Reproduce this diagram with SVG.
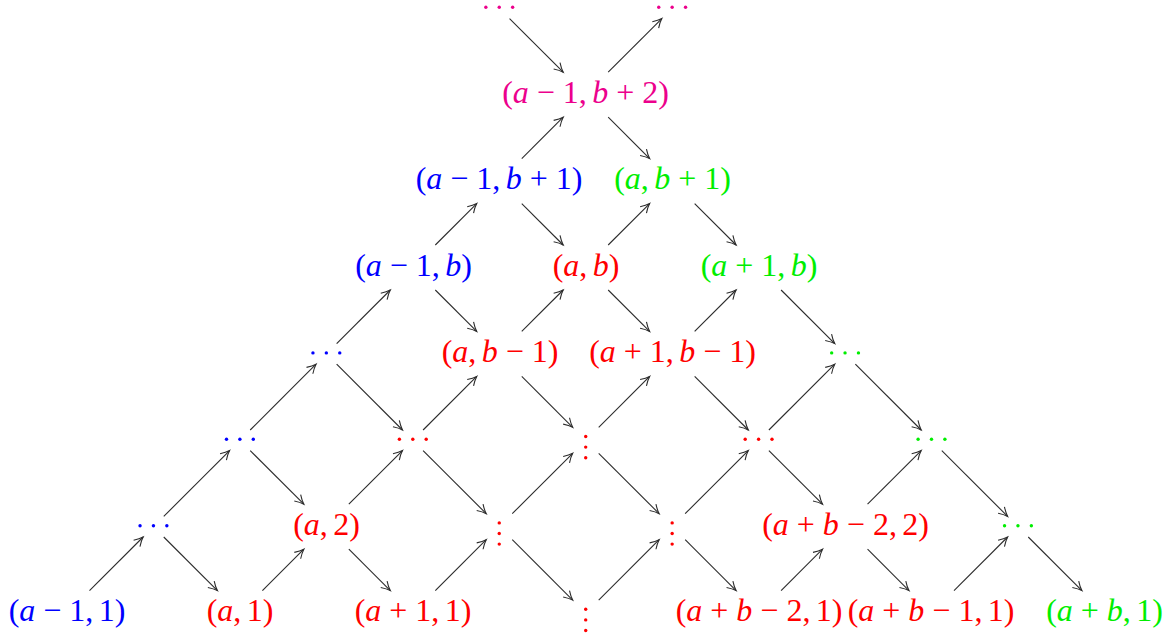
<svg xmlns="http://www.w3.org/2000/svg" width="1176" height="637" viewBox="0 0 1176 637">
<style>
text{font-family:"Liberation Serif","Times New Roman",serif;font-size:32px;text-anchor:middle}
.i{font-style:italic}
.bl{fill:#0000ff}.rd{fill:#ff0000}.gr{fill:#00ee00}.mg{fill:#ec008c}
#edges line{stroke:#2b2b2b;stroke-width:1.1;fill:none;marker-end:url(#ah)}
</style>
<defs>
<marker id="ah" markerUnits="userSpaceOnUse" viewBox="-10 -6 12 12" markerWidth="12" markerHeight="12" refX="0" refY="0" orient="auto" overflow="visible">
<path d="M-9,-4.5 Q-4,-1.2 0,0 Q-4,1.2 -9,4.5" fill="none" stroke="#2b2b2b" stroke-width="1.1"/>
</marker>
<g id="hd"><circle cx="-13.4" cy="0" r="1.7"/><circle cx="0" cy="0" r="1.7"/><circle cx="13.4" cy="0" r="1.7"/></g>
<g id="vd"><circle cx="0" cy="-3.8" r="1.7"/><circle cx="0" cy="6.8" r="1.7"/><circle cx="0" cy="17.4" r="1.7"/></g>
</defs>
<g id="edges">
<line x1="89.5" y1="590.6" x2="143.15" y2="537"/>
<line x1="163.75" y1="516.4" x2="229.6" y2="450.6"/>
<line x1="250.2" y1="430" x2="316.05" y2="364.2"/>
<line x1="336.65" y1="343.6" x2="390.3" y2="290"/>
<line x1="435.3" y1="245" x2="476.75" y2="203.6"/>
<line x1="521.75" y1="158.6" x2="563.2" y2="117.2"/>
<line x1="608.2" y1="72.2" x2="661.85" y2="18.6"/>
<line x1="262.4" y1="590.6" x2="303.85" y2="549.2"/>
<line x1="348.85" y1="504.2" x2="402.5" y2="450.6"/>
<line x1="423.1" y1="430" x2="476.75" y2="376.4"/>
<line x1="521.75" y1="331.4" x2="563.2" y2="290"/>
<line x1="608.2" y1="245" x2="649.65" y2="203.6"/>
<line x1="435.3" y1="590.6" x2="486.25" y2="539.7"/>
<line x1="512.25" y1="513.7" x2="572.7" y2="453.3"/>
<line x1="598.7" y1="427.3" x2="649.65" y2="376.4"/>
<line x1="694.65" y1="331.4" x2="736.1" y2="290"/>
<line x1="598.7" y1="600.1" x2="659.15" y2="539.7"/>
<line x1="685.15" y1="513.7" x2="748.3" y2="450.6"/>
<line x1="768.9" y1="430" x2="834.75" y2="364.2"/>
<line x1="781.1" y1="590.6" x2="822.55" y2="549.2"/>
<line x1="867.55" y1="504.2" x2="921.2" y2="450.6"/>
<line x1="954" y1="590.6" x2="1007.65" y2="537"/>
<line x1="509.55" y1="18.6" x2="563.2" y2="72.2"/>
<line x1="608.2" y1="117.2" x2="649.65" y2="158.6"/>
<line x1="694.65" y1="203.6" x2="736.1" y2="245"/>
<line x1="781.1" y1="290" x2="834.75" y2="343.6"/>
<line x1="855.35" y1="364.2" x2="921.2" y2="430"/>
<line x1="941.8" y1="450.6" x2="1007.65" y2="516.4"/>
<line x1="1028.25" y1="537" x2="1081.9" y2="590.6"/>
<line x1="521.75" y1="203.6" x2="563.2" y2="245"/>
<line x1="608.2" y1="290" x2="649.65" y2="331.4"/>
<line x1="694.65" y1="376.4" x2="748.3" y2="430"/>
<line x1="768.9" y1="450.6" x2="822.55" y2="504.2"/>
<line x1="867.55" y1="549.2" x2="909" y2="590.6"/>
<line x1="435.3" y1="290" x2="476.75" y2="331.4"/>
<line x1="521.75" y1="376.4" x2="572.7" y2="427.3"/>
<line x1="598.7" y1="453.3" x2="659.15" y2="513.7"/>
<line x1="685.15" y1="539.7" x2="736.1" y2="590.6"/>
<line x1="336.65" y1="364.2" x2="402.5" y2="430"/>
<line x1="423.1" y1="450.6" x2="486.25" y2="513.7"/>
<line x1="512.25" y1="539.7" x2="572.7" y2="600.1"/>
<line x1="250.2" y1="450.6" x2="303.85" y2="504.2"/>
<line x1="348.85" y1="549.2" x2="390.3" y2="590.6"/>
<line x1="163.75" y1="537" x2="217.4" y2="590.6"/>
</g>
<!-- row 0 -->
<g id="n_am1_1"><text class="bl" x="67" y="621">(<tspan class="i">a</tspan> − 1,<tspan dx="5.3">1)</tspan></text></g>
<g id="n_a_1"><text class="rd" x="240" y="621">(<tspan class="i">a</tspan>,<tspan dx="5.3">1)</tspan></text></g>
<g id="n_ap1_1"><text class="rd" x="413" y="621">(<tspan class="i">a</tspan> + 1,<tspan dx="5.3">1)</tspan></text></g>
<g id="n_v_r0" class="rd"><use href="#vd" x="585.7" y="613.1"/></g>
<g id="n_abm2_1"><text class="rd" x="759" y="621">(<tspan class="i">a</tspan> + <tspan class="i">b</tspan> − 2,<tspan dx="5.3">1)</tspan></text></g>
<g id="n_abm1_1"><text class="rd" x="931" y="621">(<tspan class="i">a</tspan> + <tspan class="i">b</tspan> − 1,<tspan dx="5.3">1)</tspan></text></g>
<g id="n_ab_1"><text class="gr" x="1104.5" y="621">(<tspan class="i">a</tspan> + <tspan class="i">b</tspan>,<tspan dx="5.3">1)</tspan></text></g>
<!-- row 1 -->
<g id="n_h_b1" class="bl"><use href="#hd" x="153.45" y="525.7"/></g>
<g id="n_a_2"><text class="rd" x="326.5" y="534.7">(<tspan class="i">a</tspan>,<tspan dx="5.3">2)</tspan></text></g>
<g id="n_v_r1a" class="rd"><use href="#vd" x="499.25" y="526.7"/></g>
<g id="n_v_r1b" class="rd"><use href="#vd" x="672.15" y="526.7"/></g>
<g id="n_abm2_2"><text class="rd" x="845.5" y="534.7">(<tspan class="i">a</tspan> + <tspan class="i">b</tspan> − 2,<tspan dx="5.3">2)</tspan></text></g>
<g id="n_h_g1" class="gr"><use href="#hd" x="1017.95" y="525.7"/></g>
<!-- row 2 -->
<g id="n_h_b2" class="bl"><use href="#hd" x="239.9" y="439.3"/></g>
<g id="n_h_r2a" class="rd"><use href="#hd" x="412.8" y="439.3"/></g>
<g id="n_v_r2" class="rd"><use href="#vd" x="585.7" y="440.3"/></g>
<g id="n_h_r2b" class="rd"><use href="#hd" x="758.6" y="439.3"/></g>
<g id="n_h_g2" class="gr"><use href="#hd" x="931.5" y="439.3"/></g>
<!-- row 3 -->
<g id="n_h_b3" class="bl"><use href="#hd" x="326.35" y="352.9"/></g>
<g id="n_a_bm1"><text class="rd" x="500" y="361.9">(<tspan class="i">a</tspan>,<tspan dx="5.3" class="i">b</tspan> − 1)</text></g>
<g id="n_ap1_bm1"><text class="rd" x="672.5" y="361.9">(<tspan class="i">a</tspan> + 1,<tspan dx="5.3" class="i">b</tspan> − 1)</text></g>
<g id="n_h_g3" class="gr"><use href="#hd" x="845.05" y="352.9"/></g>
<!-- row 4 -->
<g id="n_am1_b"><text class="bl" x="413.5" y="275.5">(<tspan class="i">a</tspan> − 1,<tspan dx="5.3" class="i">b</tspan>)</text></g>
<g id="n_a_b"><text class="rd" x="586" y="275.5">(<tspan class="i">a</tspan>,<tspan dx="5.3" class="i">b</tspan>)</text></g>
<g id="n_ap1_b"><text class="gr" x="759" y="275.5">(<tspan class="i">a</tspan> + 1,<tspan dx="5.3" class="i">b</tspan>)</text></g>
<!-- row 5 -->
<g id="n_am1_bp1"><text class="bl" x="499" y="189.1">(<tspan class="i">a</tspan> − 1,<tspan dx="5.3" class="i">b</tspan> + 1)</text></g>
<g id="n_a_bp1"><text class="gr" x="672.5" y="189.1">(<tspan class="i">a</tspan>,<tspan dx="5.3" class="i">b</tspan> + 1)</text></g>
<!-- row 6 -->
<g id="n_am1_bp2"><text class="mg" x="585.5" y="102.7">(<tspan class="i">a</tspan> − 1,<tspan dx="5.3" class="i">b</tspan> + 2)</text></g>
<!-- row 7 -->
<g id="n_h_m7a" class="mg"><use href="#hd" x="499.25" y="7.3"/></g>
<g id="n_h_m7b" class="mg"><use href="#hd" x="672.15" y="7.3"/></g>
</svg>
